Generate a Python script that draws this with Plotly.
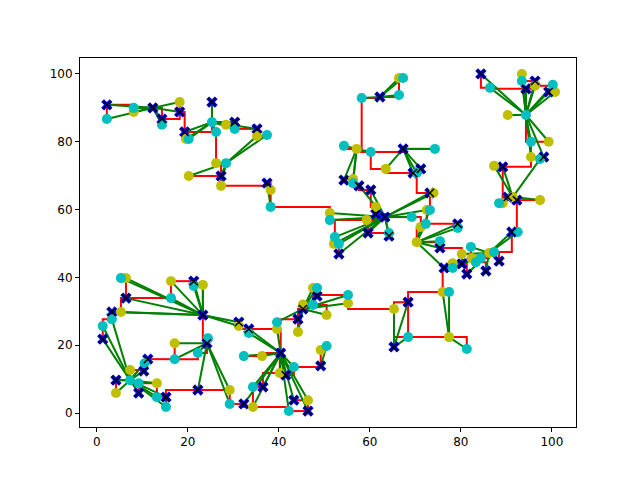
import plotly.graph_objects as go

blue_x = [2.2,12.3,18.2,25.3,14.3,30.3,35.2,19.3,27.3,37.4,62.2,67.3,54.3,57.6,60.2,69.5,71.2,73.2,61.3,63.3,59.6,64.2,79.3,75.4,53.2,84.4,96.3,94.3,99.3,89.2,98.2,90.3,92.3,91.2,88.4,76.3,80.2,81.3,85.5,
          6.4,3.3,23.3,21.3,31.2,33.4,44.2,1.3,24.2,40.4,11.2,10.3,4.2,9.2,15.2,22.2,36.5,32.3,41.5,49.2,43.3,46.4,48.4,45.3,65.3,68.4]
blue_y = [90.9,90,88.8,91.7,86.7,85.8,83.8,82.9,69.9,67.8,93.2,77.9,68.7,67,65.8,70.8,72,64.9,58.7,57.8,53.1,52.2,55.8,48.7,46.9,100,97.9,95.6,94.7,72.6,75.5,63.7,62.8,53.4,44.8,42.8,44,41,41.9,
          33.9,29.8,28.9,38.9,26.8,24.8,27.7,21.8,20.6,17.7,15.9,12.4,9.7,5.9,4.7,6.8,7.7,2.7,11.2,13.9,3.8,0.6,34.5,30.7,19.5,32.7]
yel_x = [8.1,18.2,28.4,35.2,19.6,26.2,20.2,27.3,38.2,66.4,57.1,63.5,56.3,74,61.3,51.2,59.3,71.2,72.5,70.3,52.1,80.2,82.4,78.2,86.2,93.4,96.3,100.7,90.3,99.3,95.4,87.3,91.4,89.2,97.4,
         6.4,16.3,23.3,5.3,31.2,39.6,44.2,50.5,17.1,7.3,4.2,13.2,29.2,34.3,36.3,40.2,46.4,49.2,47.5,45.3,65.3,77.4,55.2,76]
yel_y = [88.8,91.7,85,81.7,80.8,73.7,69.9,67,65.8,98.8,77.9,72,69,64.9,60.8,59,56.9,54.9,59.9,50.4,49.9,46.9,45.7,44.2,47.2,100,96.5,94.7,87.9,80,75.5,72.9,63.7,61.9,62.8,
         39.8,38.9,37.8,29.8,25.7,24.8,23.9,28.9,20.6,12.7,5.9,8.8,6.8,1.8,16.8,11.8,3.8,18.6,36.9,32,30.7,22.4,32.4,35.7]
cyan_x = [2.2,8.1,14.3,25.3,26.2,30.3,37.4,20.2,28.4,38.2,67.3,58.2,66.4,54.3,60.2,74.3,70.3,56.3,73.2,69.2,72.3,79.3,51.2,52.3,53.2,64.2,75.4,82.2,78.2,83.3,84.4,87.3,86.4,93.4,100.2,94.3,95.4,97.4,88.4,92.5,
          5.3,16.3,21.3,3.3,1.3,39.6,33.4,24.4,17.1,22.2,32.3,10.5,7.3,9.2,13.2,15.2,29.2,34.3,43.3,42.2,50.5,48.4,47.5,68.4,81.3,55.2,77.4]
cyan_y = [86.7,90,85,85.8,82.9,83.8,82,80.8,73.7,60.8,98.8,92.9,93.8,78.8,77,77.9,70.8,67.8,59.9,57.8,55.8,54.6,56.9,51.9,49.9,53.1,50.7,49,42.8,44.5,45.7,47.5,95.9,97.9,96.8,87.9,80,74.9,61.9,53.4,
          39.8,33.9,37.5,27.7,25.7,26.8,23.6,22.1,15.9,17.7,16.8,14.7,9.7,8.8,4.7,1.8,2.7,7.7,13.6,0.6,19.8,36.9,31.9,22.4,18.9,34.8,35.7]
hub_x = [37.4,25.3,12.3,28.4,57.1,67.3,62.2,63.3,70.3,86.2,91.4,94.3,23.3,24.2,50.5,7.3,65.3,77.4,40.4,45.3]
hub_y = [67.8,85.8,90,73.7,77.9,77.9,93.2,57.8,50.4,47.2,63.7,87.9,28.9,20.6,19.8,9.7,19.5,22.4,17.7,30.7]

pts = list(zip(blue_x, blue_y)) + list(zip(yel_x, yel_y)) + list(zip(cyan_x, cyan_y))

# rectilinear minimum spanning tree (Prim, Manhattan distance)
n = len(pts)
inT = [False]*n; inT[0] = True
best = [abs(p[0]-pts[0][0])+abs(p[1]-pts[0][1]) for p in pts]
par = [0]*n
rx, ry = [], []
for _ in range(n-1):
    j = min((i for i in range(n) if not inT[i]), key=lambda i: best[i])
    inT[j] = True
    a, b = pts[par[j]], pts[j]
    rx += [a[0], b[0], b[0], None]; ry += [a[1], a[1], b[1], None]
    for i in range(n):
        if not inT[i]:
            d = abs(pts[i][0]-b[0])+abs(pts[i][1]-b[1])
            if d < best[i]:
                best[i] = d; par[i] = j

gx, gy = [], []
for p in pts:
    k = min(range(len(hub_x)), key=lambda h: (hub_x[h]-p[0])**2+(hub_y[h]-p[1])**2)
    if (hub_x[k]-p[0])**2+(hub_y[k]-p[1])**2 > 0.01:
        gx += [hub_x[k], p[0], None]; gy += [hub_y[k], p[1], None]

fig = go.Figure()
fig.add_trace(go.Scatter(x=rx, y=ry, mode="lines", line=dict(color="red", width=2), hoverinfo="skip"))
fig.add_trace(go.Scatter(x=gx, y=gy, mode="lines", line=dict(color="green", width=2), hoverinfo="skip"))
fig.add_trace(go.Scatter(x=blue_x, y=blue_y, mode="markers", marker=dict(symbol="x", size=10, color="blue")))
fig.add_trace(go.Scatter(x=yel_x, y=yel_y, mode="markers", marker=dict(symbol="circle", size=10, color="#bfbf00")))
fig.add_trace(go.Scatter(x=cyan_x, y=cyan_y, mode="markers", marker=dict(symbol="circle", size=10, color="#00bfbf")))
fig.add_trace(go.Scatter(x=blue_x, y=blue_y, mode="markers", marker=dict(symbol="x-thin", size=8, line=dict(color="black", width=1.5))))

ax = dict(showgrid=False, zeroline=False, showline=True, linecolor="black", mirror=True, automargin=False,
          ticks="outside", ticklen=4, tickcolor="black", tickfont=dict(family="DejaVu Sans", size=12, color="black"))
fig.update_layout(width=640, height=480, showlegend=False, plot_bgcolor="white", paper_bgcolor="white",
                  margin=dict(l=72, r=72, t=50, b=61),
                  xaxis=dict(range=[-3.7, 105.3], tickvals=[0,20,40,60,80,100], **ax),
                  yaxis=dict(range=[-4.1, 104.7], tickvals=[0,20,40,60,80,100], **ax))
fig.write_html("out.html")
